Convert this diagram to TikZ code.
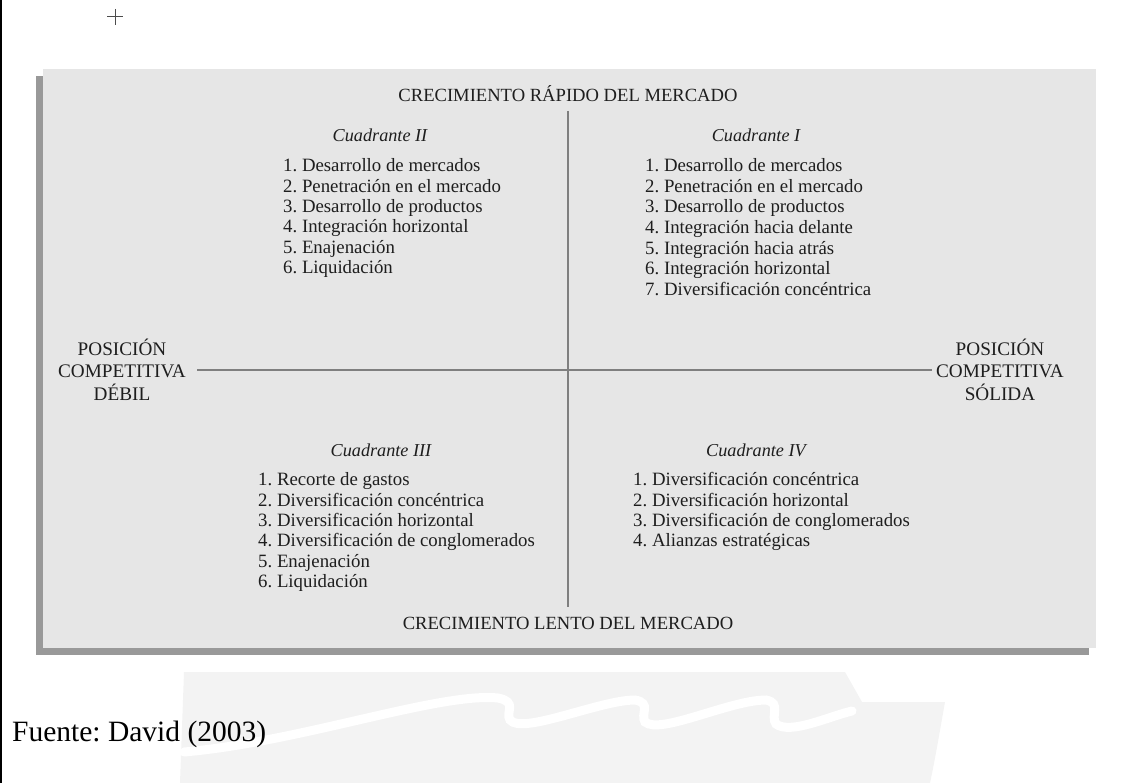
\documentclass[tikz,border=0pt]{standalone}
\usepackage{fontspec}
\setmainfont{Liberation Serif}
\frenchspacing
\definecolor{panel}{HTML}{E6E6E6}
\definecolor{shadowgray}{HTML}{999999}
\definecolor{axis}{HTML}{7F7F7F}
\definecolor{ink}{HTML}{1E1E1E}
\definecolor{emblem}{HTML}{F3F3F3}
\tikzset{
  body/.style={font=\fontsize{18.8}{20}\selectfont, text=ink, inner sep=0pt},
  head/.style={font=\fontsize{18.2}{20}\selectfont\itshape, text=ink, inner sep=0pt, anchor=base},
  item/.style={body, anchor=base west},
  caps/.style={font=\fontsize{18.6}{20}\selectfont, text=ink, inner sep=0pt, anchor=base},
  side/.style={text=ink, inner sep=0pt, align=center, font=\fontsize{19.2}{22.5}\selectfont},
  axisline/.style={draw=axis, line width=1.3pt},
}
\begin{document}
\begin{tikzpicture}[x=1pt,y=-1pt]
\useasboundingbox (0,0) rectangle (1124,783);

% faint emblem in the page background
\fill[emblem] (184,672) -- (845,672) -- (862,702) -- (945,702)
  .. controls (940,730) and (935,760) .. (930,783) -- (180,783) -- cycle;
\draw[white, line width=9pt, line cap=round]
  (184,752) .. controls (300,742) and (440,692) .. (498,698)
  .. controls (518,702) and (505,712) .. (510,720)
  .. controls (522,735) and (600,700) .. (635,700)
  .. controls (652,703) and (640,714) .. (645,722)
  .. controls (660,735) and (730,700) .. (766,700)
  .. controls (782,703) and (770,716) .. (776,724)
  .. controls (790,735) and (830,716) .. (852,711);

% page rule on the left edge
\draw[line width=2pt] (1,0) -- (1,783);
% registration mark
\draw[line width=1pt, draw=black!70] (107,17) -- (123,17) (115,9) -- (115,25);
% panel with its offset shadow
\fill[shadowgray] (36,76) rectangle (1089,655);
\fill[panel] (43,69) rectangle (1096,648);

% axis titles
\node[caps] (top) at (568,102) {CRECIMIENTO RÁPIDO DEL MERCADO};
\node[caps] (bottom) at (568,629) {CRECIMIENTO LENTO DEL MERCADO};
\node[side, anchor=base] (weak) at (122,400) {POSICIÓN\\COMPETITIVA\\DÉBIL};
\node[side, anchor=base] (strong) at (1000,400) {POSICIÓN\\COMPETITIVA\\SÓLIDA};

% axes
\coordinate (vtop) at (568,111);
\coordinate (vbot) at (568,607);
\draw[axisline] (vtop) -- (vbot);
\coordinate (hl) at (197,370);
\coordinate (hr) at (932,370);
\draw[axisline] (hl) -- (hr);

% quadrant II
\node[head] (h2) at (380,141.7) {Cuadrante II};
\foreach \t [count=\i] in {1. Desarrollo de mercados, 2. Penetración en el mercado,
  3. Desarrollo de productos, 4. Integración horizontal, 5. Enajenación, 6. Liquidación}
  \node[item] (q2-\i) at (283,{171.7+(\i-1)*20.4}) {\t};

% quadrant I
\node[head] (h1) at (756,141.7) {Cuadrante I};
\foreach \t [count=\i] in {1. Desarrollo de mercados, 2. Penetración en el mercado,
  3. Desarrollo de productos, 4. Integración hacia delante, 5. Integración hacia atrás,
  6. Integración horizontal, 7. Diversificación concéntrica}
  \node[item] (q1-\i) at (645,{171.7+(\i-1)*20.6}) {\t};

% quadrant III
\node[head] (h3) at (381,456) {Cuadrante III};
\foreach \t [count=\i] in {1. Recorte de gastos, 2. Diversificación concéntrica,
  3. Diversificación horizontal, 4. Diversificación de conglomerados, 5. Enajenación,
  6. Liquidación}
  \node[item] (q3-\i) at (258,{485.7+(\i-1)*20.4}) {\t};

% quadrant IV
\node[head] (h4) at (756,456) {Cuadrante IV};
\foreach \t [count=\i] in {1. Diversificación concéntrica, 2. Diversificación horizontal,
  3. Diversificación de conglomerados, 4. Alianzas estratégicas}
  \node[item] (q4-\i) at (633,{485.7+(\i-1)*20.4}) {\t};

% source line
\node[font=\fontsize{29.5}{32}\selectfont, anchor=base west, inner sep=0pt] (src) at (12,741) {Fuente: David (2003)};
\end{tikzpicture}
\end{document}
